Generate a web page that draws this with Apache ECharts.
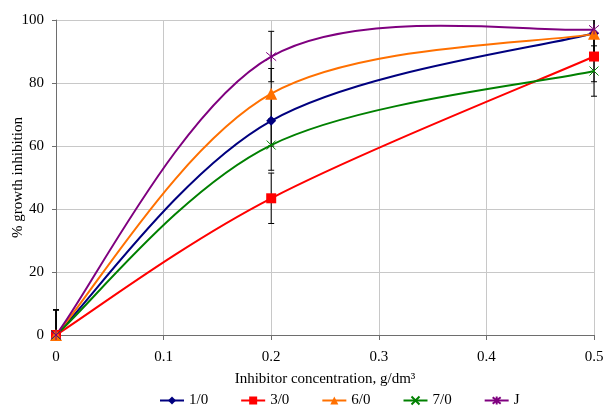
<!DOCTYPE html>
<html>
<head>
<meta charset="utf-8">
<script src="https://cdn.jsdelivr.net/npm/echarts@6/dist/echarts.min.js"></script>
<style>
  html, body { margin: 0; padding: 0; background: #fff; }
  #chart { width: 605px; height: 406px; }
</style>
</head>
<body>
<div id="chart"></div>
<script>
// concentrations, g/dm3
var conc = [0, 0.2, 0.5];
var names = ['1/0', '3/0', '6/0', '7/0', 'J'];
var s10 = [0, 68.0, 95.8];
var s30 = [0, 43.4, 88.4];
var s60 = [0, 76.6, 95.6];
var s70 = [0, 60.3, 83.8];
var sJ = [0, 88.4, 97.0];
// error bar half-widths
var err = [8, 8, 8];

var values = [s10, s30, s60, s70, sJ];
var colors = ['#00007f', '#ff0000', '#ff7000', '#008000', '#7f007f'];
var symbols = [
    'diamond',
    'rect',
    'triangle',
    'path://M0 0L10 10M10 0L0 10',
    'path://M0 0L10 10M10 0L0 10M5 -1L5 11'
];
var sizes = [10, 10, 12, 9, 10];

var myChart = echarts.init(document.getElementById('chart'));
var font = 'Liberation Serif';

var series = [];
// error bars first so the markers cover them
var errData = [];
for (var i = 0; i < values.length; i++) {
    for (var j = 0; j < conc.length; j++) {
        errData.push([conc[j], values[i][j] - err[j], values[i][j] + err[j]]);
    }
}
series.push({
    type: 'custom',
    name: 'err',
    z: 1,
    silent: true,
    data: errData,
    renderItem: function (params, api) {
        var x = api.value(0);
        var lo = api.value(1), hi = api.value(2);
        var children = [];
        var clo = Math.max(lo, 0), chi = Math.min(hi, 100);
        var p1 = api.coord([x, clo]);
        var p2 = api.coord([x, chi]);
        var st = { stroke: '#000', lineWidth: 1 };
        children.push({ type: 'line', shape: { x1: p1[0], y1: p1[1], x2: p2[0], y2: p2[1] }, style: st });
        if (lo >= 0) children.push({ type: 'line', shape: { x1: p1[0] - 3, y1: p1[1], x2: p1[0] + 3, y2: p1[1] }, style: st });
        if (hi <= 100) children.push({ type: 'line', shape: { x1: p2[0] - 3, y1: p2[1], x2: p2[0] + 3, y2: p2[1] }, style: st });
        return { type: 'group', children: children };
    }
});

// smoothed curve like the spreadsheet one (bezier, tension 1/6), one segment per item
function curveSeries(idx) {
    var pts = [];
    for (var m = 0; m < conc.length; m++) pts.push([conc[m], values[idx][m]]);
    return {
        type: 'custom',
        name: 'curve' + idx,
        z: 2,
        silent: true,
        data: pts,
        renderItem: function (params, api) {
            var n = pts.length;
            var k = params.dataIndex;
            if (k >= n - 1) return null;
            var P = pts.map(function (p) { return api.coord(p); });
            var a = P[Math.max(k - 1, 0)], b = P[k], c = P[k + 1], d = P[Math.min(k + 2, n - 1)];
            return {
                type: 'bezierCurve',
                shape: {
                    x1: b[0], y1: b[1], x2: c[0], y2: c[1],
                    cpx1: b[0] + (c[0] - a[0]) / 6, cpy1: b[1] + (c[1] - a[1]) / 6,
                    cpx2: c[0] - (d[0] - b[0]) / 6, cpy2: c[1] - (d[1] - b[1]) / 6
                },
                style: { stroke: colors[idx], lineWidth: 2, fill: null }
            };
        }
    };
}

var legendData = [];
for (var k = 0; k < names.length; k++) {
    series.push(curveSeries(k));
    var pts2 = [];
    for (var m = 0; m < conc.length; m++) pts2.push([conc[m], values[k][m]]);
    series.push({
        name: names[k],
        type: 'line',
        z: 3,
        data: pts2,
        symbol: symbols[k],
        symbolSize: sizes[k],
        showAllSymbol: true,
        lineStyle: { color: colors[k], width: 2, opacity: 0 },
        itemStyle: { color: colors[k], borderColor: colors[k], borderWidth: k >= 3 ? 1 : 0 }
    });
    legendData.push({ name: names[k], lineStyle: { color: colors[k], width: 2, opacity: 1 } });
}

var option = {
    animation: false,
    textStyle: { fontFamily: font },
    grid: { left: 56, right: 11, top: 20, bottom: 71, outerBoundsMode: 'none', containLabel: false },
    legend: {
        data: legendData,
        top: 393,
        left: 159,
        padding: 0,
        itemGap: 32,
        itemWidth: 24,
        itemHeight: 10,
        textStyle: { fontFamily: font, fontSize: 15, color: '#000' }
    },
    xAxis: {
        type: 'value',
        min: 0,
        max: 0.5,
        interval: 0.1,
        name: 'Inhibitor concentration, g/dm³',
        nameLocation: 'middle',
        nameGap: 37,
        nameTextStyle: { fontFamily: font, fontSize: 15, color: '#000' },
        axisLine: { lineStyle: { color: '#6e6e6e', width: 1 } },
        axisTick: { show: true, length: 5, lineStyle: { color: '#6e6e6e' } },
        axisLabel: {
            fontFamily: font, fontSize: 15, color: '#000', margin: 15,
            formatter: function (v) { return +v.toFixed(1) + ''; }
        },
        splitLine: { show: true, lineStyle: { color: '#c8c8c8', width: 1 } }
    },
    yAxis: {
        type: 'value',
        min: 0,
        max: 100,
        interval: 20,
        name: '% growth inhibition',
        nameLocation: 'middle',
        nameGap: 30,
        nameMoveOverlap: false,
        nameTextStyle: { fontFamily: font, fontSize: 15, color: '#000' },
        axisLine: { show: true, lineStyle: { color: '#6e6e6e', width: 1 } },
        axisTick: { show: true, length: 4, lineStyle: { color: '#6e6e6e' } },
        axisLabel: { fontFamily: font, fontSize: 15, color: '#000', margin: 12 },
        splitLine: { show: true, lineStyle: { color: '#c8c8c8', width: 1 } }
    },
    series: series
};

myChart.setOption(option);
</script>
</body>
</html>
